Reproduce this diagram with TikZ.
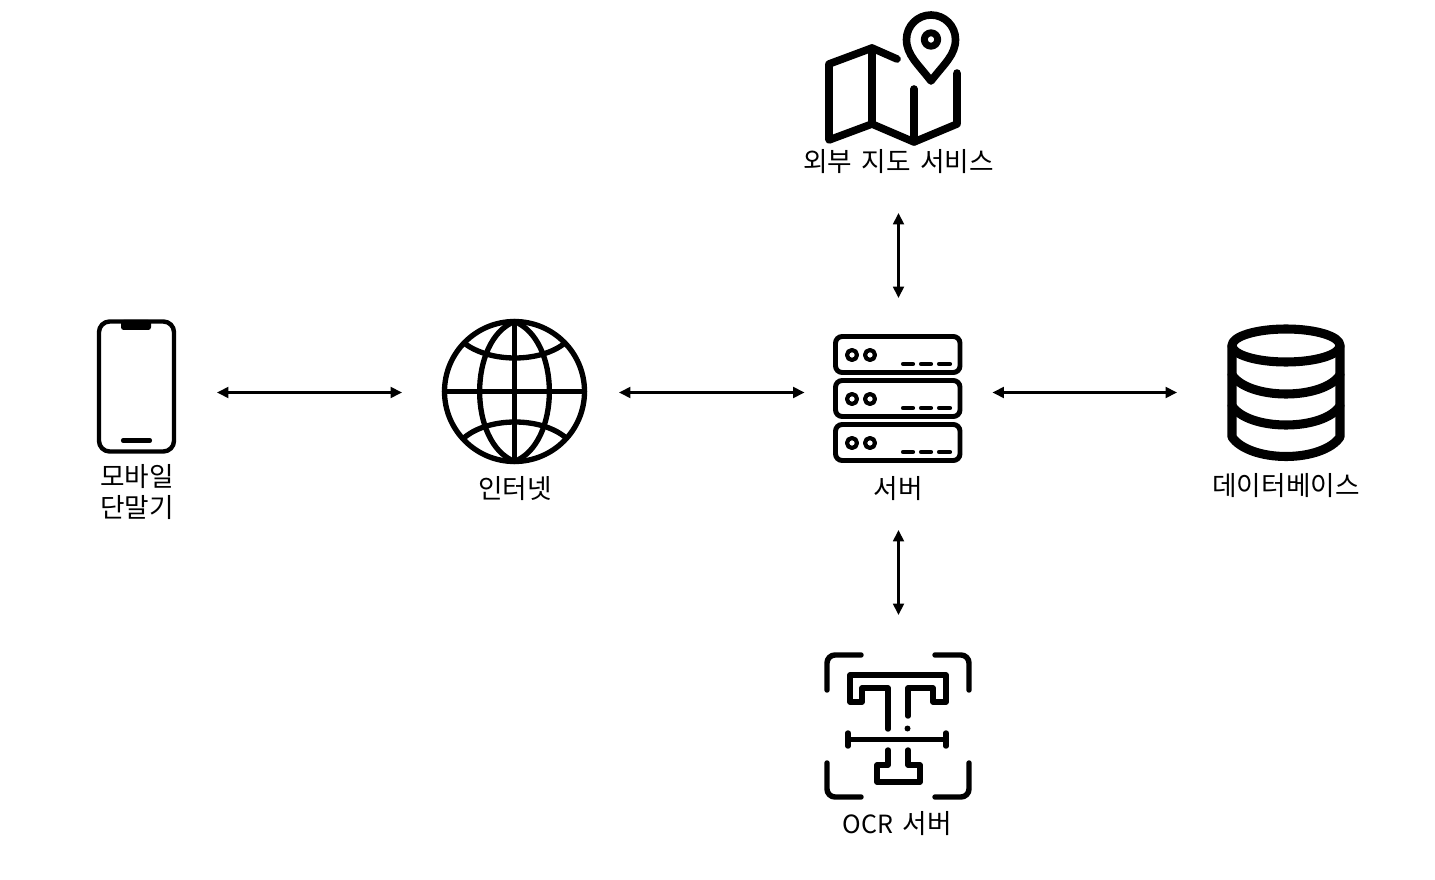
\documentclass[tikz,border=0pt]{standalone}
\usepackage{fontspec}
\setmainfont{Noto Sans CJK KR}[WordSpace=1.6]
\usetikzlibrary{arrows.meta}
\tikzset{
  x=.75pt,y=-.75pt,
  ghost/.style={inner sep=0pt,outer sep=0pt,draw=none},
  lbl/.style={ghost,font=\fontsize{20pt}{22.8pt}\selectfont,align=center,text=black},
  link/.style={line width=2pt,black,{Triangle[length=8.5pt,width=8pt]}-{Triangle[length=8.5pt,width=8pt]}},
  icon/.style={line cap=round,line join=round,black},
  thick7/.style={icon,line width=5.7pt},
  thick5/.style={icon,line width=4.1pt},
  thick35/.style={icon,line width=3.1pt},
}
\begin{document}
\begin{tikzpicture}
\useasboundingbox (0,0) rectangle (1435,880);
\fill[white] (0,0) rectangle (1435,880);
% invisible icon frames: connectors run between their edges
\node[ghost,minimum width=120pt*.75,minimum height=134pt*.75] (phone) at (157,392.5) {};
\node[ghost,minimum width=217pt*.75,minimum height=144pt*.75] (net) at (510.5,392.5) {};
\node[ghost,minimum width=188pt*.75,minimum height=189pt*.75] (server) at (898.5,392.5) {};
\node[ghost,minimum width=115pt*.75,minimum height=138pt*.75] (db) at (1234.5,392.5) {};
\node[lbl,minimum height=102pt*.75] (maplabel) at (898.5,162) {외부 지도 서비스};
\node[lbl,minimum height=82pt*.75] (serverlabel) at (898.5,489) {서버};
\node[ghost,minimum width=146pt*.75,minimum height=222pt*.75] (ocr) at (898.5,726) {};
\node[lbl] (phonelabel) at (137,492) {모바일\\단말기};
\node[lbl] (netlabel) at (515,489) {인터넷};
\node[lbl] (dblabel) at (1286,485.5) {데이터베이스};
\node[lbl] (ocrlabel) at (897,824) {{\fontsize{18.8pt}{22.8pt}\selectfont OCR} 서버};
% connectors
\draw[link] (phone.east) -- (net.west);
\draw[link] (net.east) -- (server.west);
\draw[link] (server.east) -- (db.west);
\draw[link] (maplabel.south) -- (server.north);
\draw[link] (serverlabel.south) -- (ocr.north);
% map
\draw[thick7] (914,89) -- (914,142);
\draw[thick7] (897,59) -- (872,48) -- (829,64) -- (829,140) -- (872,124) -- (914,142) -- (957,124) -- (957,73);
\draw[thick7] (872,48) -- (872,124);
\draw[thick7] (931,81) .. controls (918,64) and (906.5,55) .. (906.5,39.5) arc[start angle=180,end angle=360,radius=24.5] .. controls (955.5,55) and (944,64) .. (931,81) -- cycle;
\draw[icon,line width=5.2pt] (931,39.5) circle (6.7);
% server
\foreach \d in {0,44}{
  \draw[icon,line width=3.7pt,rounded corners=5pt] (835.5,336.5+\d) rectangle (960,372.5+\d);
  \draw[icon,line width=3.1pt] (852,355+\d) circle (5) (870,355+\d) circle (5);
  \draw[thick35] (903,364+\d) -- (913,364+\d) (921,364+\d) -- (931,364+\d) (939,364+\d) -- (950,364+\d);
}
\draw[icon,line width=3.7pt,rounded corners=5pt] (835.5,424.5) rectangle (960,460.5);
\draw[icon,line width=3.1pt] (852,443) circle (5) (870,443) circle (5);
\draw[thick35] (903,452) -- (913,452) (921,452) -- (931,452) (939,452) -- (950,452);
% globe
\begin{scope}[icon,line width=4pt]
\draw (514.5,391.5) circle (70);
\draw (444.5,391.5) -- (584.5,391.5) (514.5,321.5) -- (514.5,461.5);
\draw (514.5,321.5) .. controls (468,340) and (468,443) .. (514.5,461.5);
\draw (514.5,321.5) .. controls (561,340) and (561,443) .. (514.5,461.5);
\draw (464,343) .. controls (490,363) and (540,363) .. (565,343);
\draw (465,437) .. controls (490,417) and (540,417) .. (565,437);
\end{scope}
% phone
\draw[icon,line width=3.3pt,rounded corners=8pt] (99,321.5) rectangle (174,451.5);
\fill[black,rounded corners=2pt] (121,320) -- (121,330) -- (151,330) -- (151,320) -- cycle;
\draw[thick35] (123,440.5) -- (150,440.5);
% database
\begin{scope}[icon,line width=6.8pt]
\draw (1286,345.5) ellipse [x radius=54,y radius=16.5];
\draw (1232,345.5) -- (1232,437) .. controls (1240,449) and (1262,456.5) .. (1286,456.5) .. controls (1310,456.5) and (1332,449) .. (1340,437) -- (1340,345.5);
\draw (1232,375) .. controls (1240,387) and (1262,394) .. (1286,394) .. controls (1310,394) and (1332,387) .. (1340,375);
\draw (1232,406) .. controls (1240,418) and (1262,425) .. (1286,425) .. controls (1310,425) and (1332,418) .. (1340,406);
\end{scope}
% OCR icon
\begin{scope}[thick5]
\draw (827,690) -- (827,663) arc[start angle=180,end angle=270,radius=8] -- (861,655);
\draw (935,655) -- (961,655) arc[start angle=270,end angle=360,radius=8] -- (969,690);
\draw (827,763) -- (827,789) arc[start angle=180,end angle=90,radius=8] -- (861,797);
\draw (935,797) -- (961,797) arc[start angle=90,end angle=0,radius=8] -- (969,763);
\draw (888,729) -- (888,688) -- (862,688) -- (862,702) -- (850,702) -- (850,675) -- (946,675) -- (946,702) -- (933,702) -- (933,688) -- (908,688) -- (908,716);
\draw (848,739.5) -- (946,739.5) (848,733) -- (848,746) (946,733) -- (946,746);
\draw (888,750) -- (888,765) -- (877,765) -- (877,782) -- (920,782) -- (920,765) -- (908,765) -- (908,750);
\end{scope}
\fill[black] (907.5,728.5) circle (3);
\end{tikzpicture}
\end{document}
